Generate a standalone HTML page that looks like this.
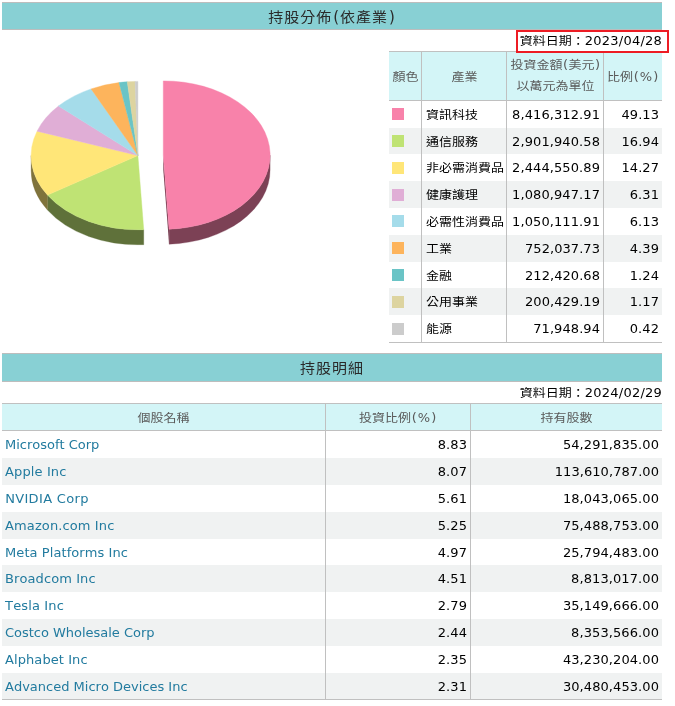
<!DOCTYPE html>
<html lang="zh-Hant"><head><meta charset="utf-8"><title>持股分佈</title><style>
html,body{margin:0;padding:0;background:#fff;}
body{width:675px;height:706px;position:relative;overflow:hidden;
 font-family:"DejaVu Sans", "Liberation Sans", "Noto Sans CJK TC", sans-serif;font-size:13px;color:#000;line-height:1;font-kerning:none;}
.abs{position:absolute;}
.cj{font-family:"Liberation Sans", "Noto Sans CJK TC", "Noto Sans CJK JP", sans-serif;font-size:13px;display:inline-block;transform:scaleY(0.91);transform-origin:50% 50%;}
.cjt{font-family:"Liberation Sans", "Noto Sans CJK TC", "Noto Sans CJK JP", sans-serif;font-size:15px;letter-spacing:1px;display:inline-block;transform:scaleY(0.94);transform-origin:50% 50%;}
.bar{position:absolute;left:2px;width:660px;height:26px;background:#88d0d4;
 border-top:1px solid #bdbdbd;border-bottom:1px solid #bdbdbd;
 text-align:center;font-size:15px;color:#2a2a2a;line-height:27px;white-space:nowrap;}
.date{position:absolute;right:13px;white-space:nowrap;font-size:13px;color:#000;line-height:16px;}
.hl{position:absolute;background:#c0c0c0;height:1px;}
.vl{position:absolute;background:#c0c0c0;width:1px;}
.th{position:absolute;background:#d3f5f7;color:#5a5a5a;text-align:center;white-space:nowrap;}
.row{position:absolute;}
.alt{background:#f0f2f2;}
.c{position:absolute;top:0;height:100%;white-space:nowrap;}
.r{text-align:right;}
.sw{position:absolute;width:12px;height:12px;}
a{color:#227b9f;text-decoration:none;}
</style></head><body>
<div class="bar" style="top:2px"><span class="cjt">持股分佈</span><span class="l" style="letter-spacing:1.960px;margin:0 -0.980px 0 0.980px">(</span><span class="cjt">依產業</span><span class="l" style="letter-spacing:1.960px;margin:0 -0.980px 0 0.980px">)</span></div>
<div class="date" style="top:32.5px"><span class="cj">資料日期：</span><span class="l" style="letter-spacing:0.242px;margin:0 -0.121px 0 0.121px">2023/04/28</span></div>
<div class="th" style="left:389px;top:51px;width:273px;height:49px"></div>
<div class="th" style="left:389px;top:52px;width:33px;height:48px;line-height:49px;background:none"><span class="cj">顏色</span></div>
<div class="th" style="left:422px;top:52px;width:85px;height:48px;line-height:49px;background:none"><span class="cj">產業</span></div>
<div class="th" style="left:507px;top:52px;width:97px;height:48px;background:none;line-height:20.5px;padding-top:3px;box-sizing:border-box"><span class="cj">投資金額</span><span class="l" style="letter-spacing:0.832px;margin:0 -0.416px 0 0.416px">(</span><span class="cj">美元</span><span class="l" style="letter-spacing:0.832px;margin:0 -0.416px 0 0.416px">)</span><br><span class="cj">以萬元為單位</span></div>
<div class="th" style="left:604px;top:52px;width:58px;height:48px;line-height:49px;background:none"><span class="cj">比例</span><span class="l" style="letter-spacing:1.101px;margin:0 -0.550px 0 0.550px">(%)</span></div>
<div class="row" style="left:389px;top:101px;width:273px;height:27px;line-height:28px"><span class="sw" style="left:3px;top:7px;background:#f882aa"></span><span class="c" style="left:37px"><span class="cj">資訊科技</span></span><span class="c r" style="left:118px;width:93px"><span class="l" style="letter-spacing:0.091px;margin:0 -0.045px 0 0.045px">8,416,312.91</span></span><span class="c r" style="left:215px;width:55px"><span class="l" style="letter-spacing:0.057px;margin:0 -0.029px 0 0.029px">49.13</span></span></div>
<div class="row alt" style="left:389px;top:128px;width:273px;height:26px;line-height:27px"><span class="sw" style="left:3px;top:7px;background:#bfe374"></span><span class="c" style="left:37px"><span class="cj">通信服務</span></span><span class="c r" style="left:118px;width:93px"><span class="l" style="letter-spacing:0.091px;margin:0 -0.045px 0 0.045px">2,901,940.58</span></span><span class="c r" style="left:215px;width:55px"><span class="l" style="letter-spacing:0.057px;margin:0 -0.029px 0 0.029px">16.94</span></span></div>
<div class="row" style="left:389px;top:154px;width:273px;height:27px;line-height:28px"><span class="sw" style="left:3px;top:8px;background:#ffe678"></span><span class="c" style="left:37px"><span class="cj">非必需消費品</span></span><span class="c r" style="left:118px;width:93px"><span class="l" style="letter-spacing:0.091px;margin:0 -0.045px 0 0.045px">2,444,550.89</span></span><span class="c r" style="left:215px;width:55px"><span class="l" style="letter-spacing:0.057px;margin:0 -0.029px 0 0.029px">14.27</span></span></div>
<div class="row alt" style="left:389px;top:181px;width:273px;height:27px;line-height:28px"><span class="sw" style="left:3px;top:8px;background:#e0aed6"></span><span class="c" style="left:37px"><span class="cj">健康護理</span></span><span class="c r" style="left:118px;width:93px"><span class="l" style="letter-spacing:0.091px;margin:0 -0.045px 0 0.045px">1,080,947.17</span></span><span class="c r" style="left:215px;width:55px"><span class="l" style="letter-spacing:0.091px;margin:0 -0.046px 0 0.046px">6.31</span></span></div>
<div class="row" style="left:389px;top:208px;width:273px;height:27px;line-height:28px"><span class="sw" style="left:3px;top:7px;background:#a5dcea"></span><span class="c" style="left:37px"><span class="cj">必需性消費品</span></span><span class="c r" style="left:118px;width:93px"><span class="l" style="letter-spacing:0.091px;margin:0 -0.045px 0 0.045px">1,050,111.91</span></span><span class="c r" style="left:215px;width:55px"><span class="l" style="letter-spacing:0.091px;margin:0 -0.046px 0 0.046px">6.13</span></span></div>
<div class="row alt" style="left:389px;top:235px;width:273px;height:27px;line-height:28px"><span class="sw" style="left:3px;top:7px;background:#fdb45c"></span><span class="c" style="left:37px"><span class="cj">工業</span></span><span class="c r" style="left:118px;width:93px"><span class="l" style="letter-spacing:0.057px;margin:0 -0.029px 0 0.029px">752,037.73</span></span><span class="c r" style="left:215px;width:55px"><span class="l" style="letter-spacing:0.091px;margin:0 -0.046px 0 0.046px">4.39</span></span></div>
<div class="row" style="left:389px;top:262px;width:273px;height:26px;line-height:27px"><span class="sw" style="left:3px;top:7px;background:#6ac4c6"></span><span class="c" style="left:37px"><span class="cj">金融</span></span><span class="c r" style="left:118px;width:93px"><span class="l" style="letter-spacing:0.057px;margin:0 -0.029px 0 0.029px">212,420.68</span></span><span class="c r" style="left:215px;width:55px"><span class="l" style="letter-spacing:0.091px;margin:0 -0.046px 0 0.046px">1.24</span></span></div>
<div class="row alt" style="left:389px;top:288px;width:273px;height:27px;line-height:28px"><span class="sw" style="left:3px;top:8px;background:#ddd4a0"></span><span class="c" style="left:37px"><span class="cj">公用事業</span></span><span class="c r" style="left:118px;width:93px"><span class="l" style="letter-spacing:0.057px;margin:0 -0.029px 0 0.029px">200,429.19</span></span><span class="c r" style="left:215px;width:55px"><span class="l" style="letter-spacing:0.091px;margin:0 -0.046px 0 0.046px">1.17</span></span></div>
<div class="row" style="left:389px;top:315px;width:273px;height:27px;line-height:28px"><span class="sw" style="left:3px;top:8px;background:#cccccc"></span><span class="c" style="left:37px"><span class="cj">能源</span></span><span class="c r" style="left:118px;width:93px"><span class="l" style="letter-spacing:0.072px;margin:0 -0.036px 0 0.036px">71,948.94</span></span><span class="c r" style="left:215px;width:55px"><span class="l" style="letter-spacing:0.091px;margin:0 -0.046px 0 0.046px">0.42</span></span></div>
<div class="hl" style="left:389px;top:51px;width:273px"></div>
<div class="hl" style="left:389px;top:100px;width:273px"></div>
<div class="hl" style="left:389px;top:342px;width:273px"></div>
<div class="vl" style="left:421px;top:51px;height:291px"></div>
<div class="vl" style="left:506px;top:51px;height:291px"></div>
<div class="vl" style="left:603px;top:51px;height:291px"></div>
<div class="abs" style="left:516px;top:30px;width:149px;height:19px;border:2px solid #ed1c24"></div>
<svg class="abs" style="left:0;top:60px" width="380" height="280" viewBox="0 60 380 280"><path d="M163.29 155.12 L169.13 229.21 L169.13 244.21 L163.29 170.12 Z" fill="#7c4155"/><path d="M270.09 155.12 A106.80 74.20 0 0 1 169.13 229.21 L169.13 244.21 A106.80 74.20 0 0 0 270.09 170.12 Z" fill="#7c4155" stroke="#7c4155" stroke-width="0.3"/><path d="M143.74 229.69 A106.80 74.20 0 0 1 47.47 195.08 L47.47 210.08 A106.80 74.20 0 0 0 143.74 244.69 Z" fill="#5f713a" stroke="#5f713a" stroke-width="0.3"/><path d="M47.47 195.08 A106.80 74.20 0 0 1 31.10 155.60 L31.10 170.60 A106.80 74.20 0 0 0 47.47 210.08 Z" fill="#7f733c" stroke="#7f733c" stroke-width="0.3"/><path d="M163.29 155.12 L163.29 80.92 A106.80 74.20 0 0 1 169.13 229.21 Z" fill="#f882aa" stroke="#f882aa" stroke-width="0.4"/><path d="M137.90 155.60 L143.74 229.69 A106.80 74.20 0 0 1 47.47 195.08 Z" fill="#bfe374" stroke="#bfe374" stroke-width="0.4"/><path d="M137.90 155.60 L47.47 195.08 A106.80 74.20 0 0 1 37.06 131.17 Z" fill="#ffe678" stroke="#ffe678" stroke-width="0.4"/><path d="M137.90 155.60 L37.06 131.17 A106.80 74.20 0 0 1 58.46 106.01 Z" fill="#e0aed6" stroke="#e0aed6" stroke-width="0.4"/><path d="M137.90 155.60 L58.46 106.01 A106.80 74.20 0 0 1 91.10 88.90 Z" fill="#a5dcea" stroke="#a5dcea" stroke-width="0.4"/><path d="M137.90 155.60 L91.10 88.90 A106.80 74.20 0 0 1 119.01 82.57 Z" fill="#fdb45c" stroke="#fdb45c" stroke-width="0.4"/><path d="M137.90 155.60 L119.01 82.57 A106.80 74.20 0 0 1 127.25 81.77 Z" fill="#6ac4c6" stroke="#6ac4c6" stroke-width="0.4"/><path d="M137.90 155.60 L127.25 81.77 A106.80 74.20 0 0 1 135.08 81.43 Z" fill="#ddd4a0" stroke="#ddd4a0" stroke-width="0.4"/><path d="M137.90 155.60 L135.08 81.43 A106.80 74.20 0 0 1 137.90 81.40 Z" fill="#cccccc" stroke="#cccccc" stroke-width="0.4"/></svg>
<div class="bar" style="top:353px;height:27px;line-height:27px"><span class="cjt">持股明細</span></div>
<div class="date" style="top:385px"><span class="cj">資料日期：</span><span class="l" style="letter-spacing:0.242px;margin:0 -0.121px 0 0.121px">2024/02/29</span></div>
<div class="th" style="left:2px;top:403px;width:660px;height:27px"></div>
<div class="th" style="left:2px;top:404px;width:323px;height:26px;line-height:28px;background:none"><span class="cj">個股名稱</span></div>
<div class="th" style="left:326px;top:404px;width:144px;height:26px;line-height:28px;background:none"><span class="cj">投資比例</span><span class="l" style="letter-spacing:1.101px;margin:0 -0.550px 0 0.550px">(%)</span></div>
<div class="th" style="left:471px;top:404px;width:191px;height:26px;line-height:28px;background:none"><span class="cj">持有股數</span></div>
<div class="row" style="left:2px;top:431px;width:660px;height:27px;line-height:27px"><span class="c" style="left:3px"><a><span class="l" style="letter-spacing:-0.011px;margin:0 0.006px 0 -0.006px">Microsoft Corp</span></a></span><span class="c r" style="left:324px;width:141px"><span class="l" style="letter-spacing:0.091px;margin:0 -0.046px 0 0.046px">8.83</span></span><span class="c r" style="left:469px;width:188px"><span class="l" style="letter-spacing:0.078px;margin:0 -0.039px 0 0.039px">54,291,835.00</span></span></div>
<div class="row alt" style="left:2px;top:458px;width:660px;height:27px;line-height:27px"><span class="c" style="left:3px"><a><span class="l" style="letter-spacing:0.120px;margin:0 -0.060px 0 0.060px">Apple Inc</span></a></span><span class="c r" style="left:324px;width:141px"><span class="l" style="letter-spacing:0.091px;margin:0 -0.046px 0 0.046px">8.07</span></span><span class="c r" style="left:469px;width:188px"><span class="l" style="letter-spacing:0.067px;margin:0 -0.033px 0 0.033px">113,610,787.00</span></span></div>
<div class="row" style="left:2px;top:485px;width:660px;height:27px;line-height:27px"><span class="c" style="left:3px"><a><span class="l" style="letter-spacing:0.338px;margin:0 -0.169px 0 0.169px">NVIDIA Corp</span></a></span><span class="c r" style="left:324px;width:141px"><span class="l" style="letter-spacing:0.091px;margin:0 -0.046px 0 0.046px">5.61</span></span><span class="c r" style="left:469px;width:188px"><span class="l" style="letter-spacing:0.078px;margin:0 -0.039px 0 0.039px">18,043,065.00</span></span></div>
<div class="row alt" style="left:2px;top:512px;width:660px;height:27px;line-height:27px"><span class="c" style="left:3px"><a><span class="l" style="letter-spacing:0.113px;margin:0 -0.057px 0 0.057px">Amazon.com Inc</span></a></span><span class="c r" style="left:324px;width:141px"><span class="l" style="letter-spacing:0.091px;margin:0 -0.046px 0 0.046px">5.25</span></span><span class="c r" style="left:469px;width:188px"><span class="l" style="letter-spacing:0.078px;margin:0 -0.039px 0 0.039px">75,488,753.00</span></span></div>
<div class="row" style="left:2px;top:539px;width:660px;height:26px;line-height:27px"><span class="c" style="left:3px"><a><span class="l" style="letter-spacing:0.080px;margin:0 -0.040px 0 0.040px">Meta Platforms Inc</span></a></span><span class="c r" style="left:324px;width:141px"><span class="l" style="letter-spacing:0.091px;margin:0 -0.046px 0 0.046px">4.97</span></span><span class="c r" style="left:469px;width:188px"><span class="l" style="letter-spacing:0.078px;margin:0 -0.039px 0 0.039px">25,794,483.00</span></span></div>
<div class="row alt" style="left:2px;top:565px;width:660px;height:27px;line-height:27px"><span class="c" style="left:3px"><a><span class="l" style="letter-spacing:0.089px;margin:0 -0.044px 0 0.044px">Broadcom Inc</span></a></span><span class="c r" style="left:324px;width:141px"><span class="l" style="letter-spacing:0.091px;margin:0 -0.046px 0 0.046px">4.51</span></span><span class="c r" style="left:469px;width:188px"><span class="l" style="letter-spacing:0.091px;margin:0 -0.045px 0 0.045px">8,813,017.00</span></span></div>
<div class="row" style="left:2px;top:592px;width:660px;height:27px;line-height:27px"><span class="c" style="left:3px"><a><span class="l" style="letter-spacing:0.144px;margin:0 -0.072px 0 0.072px">Tesla Inc</span></a></span><span class="c r" style="left:324px;width:141px"><span class="l" style="letter-spacing:0.091px;margin:0 -0.046px 0 0.046px">2.79</span></span><span class="c r" style="left:469px;width:188px"><span class="l" style="letter-spacing:0.078px;margin:0 -0.039px 0 0.039px">35,149,666.00</span></span></div>
<div class="row alt" style="left:2px;top:619px;width:660px;height:27px;line-height:27px"><span class="c" style="left:3px"><a><span class="l" style="letter-spacing:-0.021px;margin:0 0.011px 0 -0.011px">Costco Wholesale Corp</span></a></span><span class="c r" style="left:324px;width:141px"><span class="l" style="letter-spacing:0.091px;margin:0 -0.046px 0 0.046px">2.44</span></span><span class="c r" style="left:469px;width:188px"><span class="l" style="letter-spacing:0.091px;margin:0 -0.045px 0 0.045px">8,353,566.00</span></span></div>
<div class="row" style="left:2px;top:646px;width:660px;height:27px;line-height:27px"><span class="c" style="left:3px"><a><span class="l" style="letter-spacing:0.078px;margin:0 -0.039px 0 0.039px">Alphabet Inc</span></a></span><span class="c r" style="left:324px;width:141px"><span class="l" style="letter-spacing:0.091px;margin:0 -0.046px 0 0.046px">2.35</span></span><span class="c r" style="left:469px;width:188px"><span class="l" style="letter-spacing:0.078px;margin:0 -0.039px 0 0.039px">43,230,204.00</span></span></div>
<div class="row alt" style="left:2px;top:673px;width:660px;height:26px;line-height:28px"><span class="c" style="left:3px"><a><span class="l" style="letter-spacing:0.001px;margin:0 -0.000px 0 0.000px">Advanced Micro Devices Inc</span></a></span><span class="c r" style="left:324px;width:141px"><span class="l" style="letter-spacing:0.091px;margin:0 -0.046px 0 0.046px">2.31</span></span><span class="c r" style="left:469px;width:188px"><span class="l" style="letter-spacing:0.078px;margin:0 -0.039px 0 0.039px">30,480,453.00</span></span></div>
<div class="hl" style="left:2px;top:403px;width:660px"></div>
<div class="hl" style="left:2px;top:430px;width:660px"></div>
<div class="hl" style="left:2px;top:699px;width:660px"></div>
<div class="vl" style="left:325px;top:403px;height:296px"></div>
<div class="vl" style="left:470px;top:403px;height:296px"></div>
</body></html>
